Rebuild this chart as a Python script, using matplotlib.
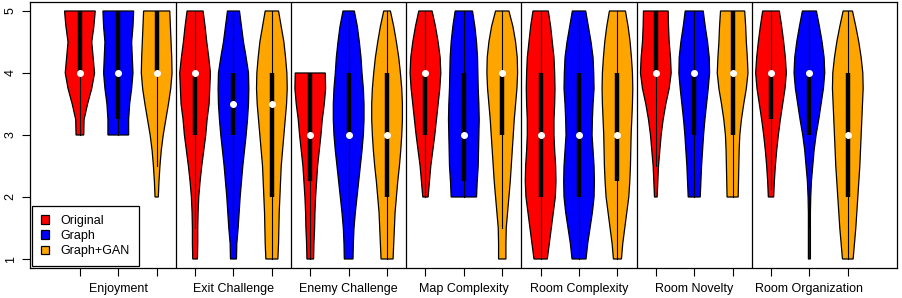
import numpy as np
import matplotlib
matplotlib.use("Agg")
import matplotlib.pyplot as plt
from matplotlib.patches import Patch

plt.rcParams['font.family'] = ['Liberation Sans', 'DejaVu Sans']

# Criterios y grupos
metrics = ["Enjoyment", "Exit Challenge", "Enemy Challenge", "Map Complexity",
           "Room Complexity", "Room Novelty", "Room Organization"]
groups = ["Original", "Graph", "Graph+GAN"]
colors = ["#FF0000", "#0000FF", "#FFA500"]

# Rango de cada violin (min, max) por criterio y grupo
ranges = [
    [(3, 5), (3, 5), (2, 5)],
    [(1, 5), (1, 5), (1, 5)],
    [(1, 4), (1, 5), (1, 5)],
    [(2, 5), (2, 5), (1, 5)],
    [(1, 5), (1, 5), (1, 5)],
    [(2, 5), (2, 5), (2, 5)],
    [(2, 5), (1, 5), (1, 5)],
]

# Densidad relativa, de max a min en pasos de 0.25
dens = [
    [[44, 40, 34, 38, 42, 34, 22, 12, 11],
     [46, 44, 40, 42, 44, 40, 34, 31, 31],
     [40, 42, 44, 46, 47, 43, 36, 28, 20, 14, 10, 7, 5]],
    [[24, 30, 35, 41, 46, 44, 42, 36, 32, 26, 20, 15, 11, 9, 8, 8, 7],
     [18, 24, 30, 38, 45, 46, 45, 42, 38, 33, 28, 24, 20, 17, 14, 10, 9],
     [20, 28, 36, 41, 45, 46, 44, 40, 36, 32, 28, 26, 24, 22, 21, 20, 18]],
    [[45, 46, 42, 36, 32, 27, 22, 19, 16, 14, 13, 11, 10],
     [17, 26, 32, 37, 40, 44, 46, 46, 44, 40, 35, 30, 25, 20, 16, 14, 13],
     [10, 20, 28, 35, 40, 44, 46, 46, 44, 41, 37, 32, 28, 24, 22, 20, 18]],
    [[20, 30, 38, 44, 46, 43, 38, 33, 28, 22, 16, 12, 8],
     [26, 33, 38, 41, 42, 43, 45, 46, 45, 44, 43, 40, 38],
     [20, 32, 40, 45, 46, 44, 40, 36, 33, 30, 27, 24, 20, 16, 12, 11, 11]],
    [[23, 30, 35, 40, 42, 43, 42, 40, 40, 42, 45, 46, 44, 38, 32, 26, 20],
     [20, 28, 36, 42, 44, 45, 42, 40, 39, 42, 45, 46, 45, 40, 33, 26, 21],
     [24, 32, 38, 42, 45, 46, 45, 43, 41, 40, 39, 37, 34, 28, 22, 16, 12]],
    [[37, 38, 40, 44, 46, 40, 30, 22, 16, 12, 8, 6, 4],
     [27, 33, 40, 45, 46, 42, 37, 32, 28, 25, 22, 20, 18],
     [37, 40, 42, 45, 47, 42, 34, 27, 22, 20, 19, 18, 17]],
    [[25, 32, 38, 43, 46, 42, 35, 28, 22, 17, 13, 10, 8],
     [21, 30, 38, 44, 46, 42, 35, 28, 20, 14, 10, 6, 4, 3, 3, 3, 3],
     [14, 24, 33, 40, 45, 46, 44, 42, 40, 38, 36, 33, 30, 27, 24, 20, 16]],
]

# Mediana, cuartiles y bigotes
medians = [[4, 4, 4], [4, 3.5, 3.5], [3, 3, 3], [4, 3, 4],
           [3, 3, 3], [4, 4, 4], [4, 4, 3]]
q1 = [[4, 3.25, 4], [3, 3, 2], [2.25, 3, 2], [3, 2.25, 3],
      [2, 2, 2.25], [4, 3, 3], [3.25, 3, 2]]
q3 = [[5, 5, 5], [4, 4, 4], [4, 4, 4], [4, 4, 4],
      [4, 4, 4], [5, 4, 5], [4, 4, 4]]
wlo = [[3, 3, 2.5], [1.5, 1.5, 1], [1, 1.5, 1], [2, 2, 1.5],
       [1, 1, 1], [2.5, 2, 2], [2.125, 1.5, 1]]
whi = [[5, 5, 5], [5, 5, 5], [4, 5, 5], [5, 5, 5],
       [5, 5, 5], [5, 5, 5], [5, 5, 5]]

fig = plt.figure(figsize=(9.03, 2.98), dpi=100)
ax = fig.add_axes([0.0332, 0.1007, 0.9601, 0.8926])

wmax = 0.4
pos = 1
for i in range(len(metrics)):
    for j in range(3):
        lo, hi = ranges[i][j]
        d = np.array(dens[i][j], dtype=float)
        y = np.linspace(hi, lo, len(d))
        w = d / d.max() * wmax
        xs = np.concatenate([pos - w, (pos + w)[::-1]])
        ys = np.concatenate([y, y[::-1]])
        ax.fill(xs, ys, facecolor=colors[j], edgecolor="black", lw=0.9, zorder=2)
        ax.plot([pos, pos], [wlo[i][j], whi[i][j]], color="black", lw=0.8, zorder=3)
        ax.plot([pos, pos], [q1[i][j], q3[i][j]], color="black", lw=3.2,
                solid_capstyle="butt", zorder=4)
        ax.plot(pos, medians[i][j], "o", color="white", ms=4, zorder=5)
        pos += 1

# Separadores entre criterios
for k in range(1, len(metrics)):
    ax.axvline(3 * k + 0.5, color="black", lw=0.9, zorder=1)

ax.set_xlim(-0.30, 22.28)
ax.set_ylim(0.855, 5.145)

ticks = np.arange(1, 3 * len(metrics) + 1)
labels = []
for t in ticks:
    labels.append(metrics[(t - 1) // 3] if (t - 1) % 3 == 1 else "")
ax.set_xticks(ticks)
ax.set_xticklabels(labels, fontsize=9)
ax.set_yticks([1, 2, 3, 4, 5])
ax.set_yticklabels(["1", "2", "3", "4", "5"], fontsize=9, rotation=90, va="center")
ax.tick_params(axis="x", length=5.5, width=0.8, pad=5)
ax.tick_params(axis="y", length=5.5, width=0.8, pad=4)
for s in ax.spines.values():
    s.set_linewidth(0.9)

handles = [Patch(facecolor=c, edgecolor="black", lw=0.9) for c in colors]
leg = ax.legend(handles, groups, loc="lower left", bbox_to_anchor=(0.0, 0.0),
                borderaxespad=0.15, fancybox=False, framealpha=1, fontsize=9,
                handlelength=0.7, handleheight=0.7, handletextpad=0.9,
                labelspacing=0.25, borderpad=0.7)
leg.get_frame().set_edgecolor("black")
leg.get_frame().set_linewidth(0.9)

fig.savefig("out.png", dpi=100)
